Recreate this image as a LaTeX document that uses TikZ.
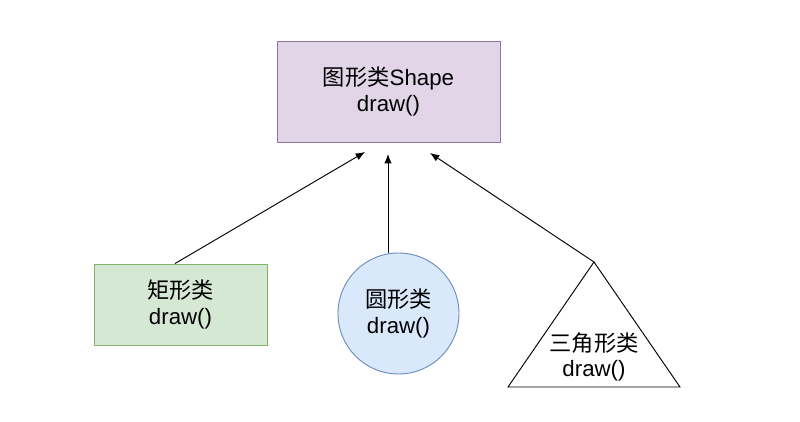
\documentclass[tikz,border=0pt]{standalone}
\usepackage{fontspec}
\setmainfont{Liberation Sans}
\newfontfamily\cjk{Noto Sans CJK SC}
\usepackage{tikz}
\usetikzlibrary{arrows.meta}

\definecolor{purpleFill}{HTML}{E1D5E7}
\definecolor{purpleLine}{HTML}{9673A6}
\definecolor{greenFill}{HTML}{D5E8D4}
\definecolor{greenLine}{HTML}{82B366}
\definecolor{blueFill}{HTML}{DAE8FC}
\definecolor{blueLine}{HTML}{6C8EBF}

\tikzset{
	label text/.style={align=center, font=\fontsize{19}{21.5}\selectfont},
	inherit/.style={-{Latex[length=2.8mm, width=2.2mm]}, line width=0.8pt}
}

\begin{document}
\begin{tikzpicture}[x=0.03cm, y=-0.03cm]
		\useasboundingbox (0,0) rectangle (800,422);
		
		%Node
		\node[rectangle, fill=purpleFill, draw=purpleLine, line width=0.8pt, minimum width=6.69cm, minimum height=3.03cm, label text] (shape) at (388.5,91.5) {{\cjk 图形类}Shape\\draw()};
		\node[rectangle, fill=greenFill, draw=greenLine, line width=0.8pt, minimum width=5.19cm, minimum height=2.43cm, label text] (rect) at (180.5,304.5) {{\cjk 矩形类}\\draw()};
		\node[circle, fill=blueFill, draw=blueLine, line width=0.8pt, minimum size=3.63cm, inner sep=0pt, label text] (circ) at (398.5,313.5) {{\cjk 圆形类}\\draw()};
		
		%Triangle
		\coordinate (triTop) at (594,262);
		\draw[line width=0.8pt] (triTop) -- (680,387) -- (508,387) -- cycle;
		\node[label text] (tri) at (594,357) {{\cjk 三角形类}\\draw()};
		
		%Arrow ends
		\coordinate (endRect) at (365,152);
		\coordinate (endCirc) at (388,154);
		\coordinate (endTri) at (430,153);
		
		%Arrows
		\draw[inherit] (rect.north) ++(-5.5,0) -- (endRect);
		\draw[inherit] (circ.north) ++(-10.5,0) -- (endCirc);
		\draw[inherit] (triTop) -- (endTri);
	\end{tikzpicture}
\end{document}
